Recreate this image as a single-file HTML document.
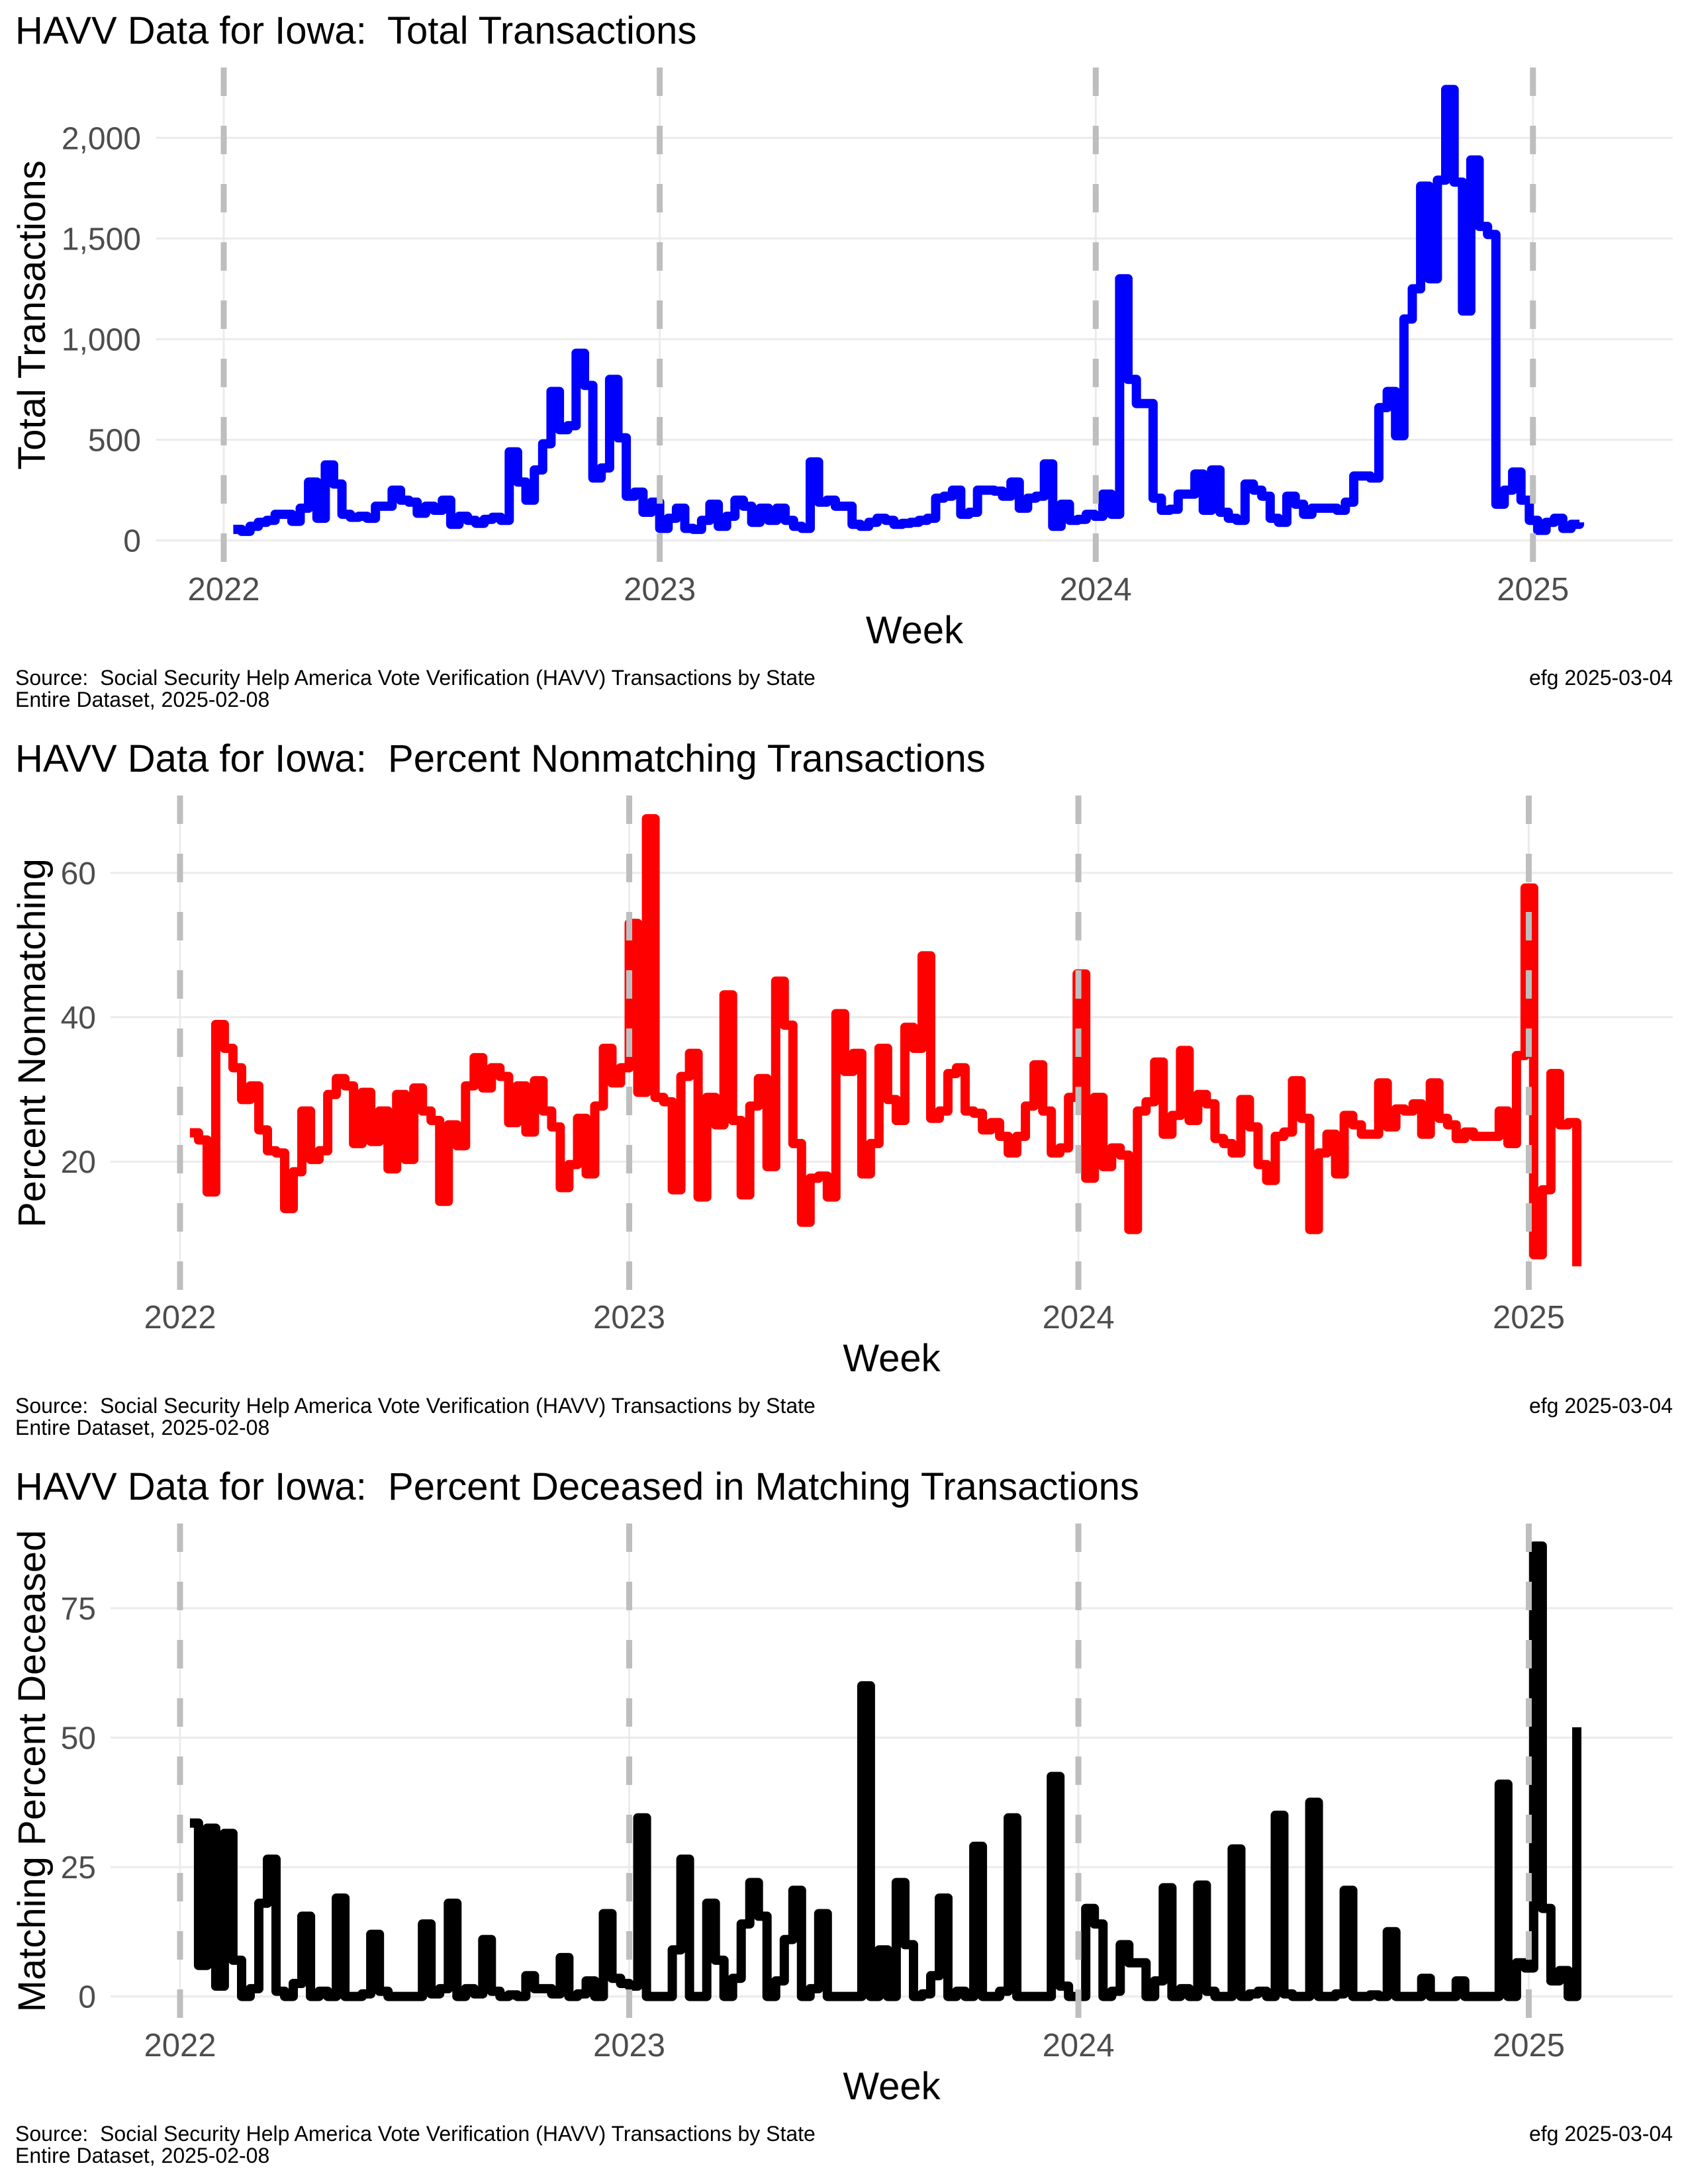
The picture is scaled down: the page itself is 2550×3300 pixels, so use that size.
<!DOCTYPE html>
<html><head><meta charset="utf-8"><title>HAVV Data for Iowa</title>
<style>
html,body{margin:0;padding:0;background:#fff;}
svg{display:block;font-family:"Liberation Sans",Arial,sans-serif;}
svg text{white-space:pre;}
</style></head>
<body>
<svg id="chart" xmlns="http://www.w3.org/2000/svg" xml:space="preserve" width="2550" height="3300" viewBox="0 0 2550 3300">
<rect x="0" y="0" width="2550" height="3300" fill="#ffffff"/>
</svg>
<script>
// ---- data ----
const weekStart = "2022-01-09";
const yearTicks = ["2022", "2023", "2024", "2025"];
const totalTx = [
55,45,70,90,100,130,130,95,160,290,
110,375,280,130,115,120,110,170,170,250,
200,190,135,170,150,200,80,120,100,85,
105,115,100,440,290,200,350,480,740,550,
570,930,770,310,360,800,510,220,240,140,
190,60,110,160,60,55,100,180,70,120,
200,170,90,160,100,160,100,70,60,390,
190,200,170,170,80,70,90,110,100,80,
85,90,100,110,210,220,250,130,140,250,
250,245,220,290,160,210,220,380,70,180,
100,105,130,120,230,130,1300,800,680,680,
210,150,155,230,230,330,150,350,140,110,
100,280,250,220,110,90,220,180,130,160,
160,160,150,190,320,320,310,660,740,520,
1100,1250,1760,1300,1790,2240,1780,1140,1890,1560,
1520,180,250,340,200,100,50,90,110,60,
80,90];
const pctNonmatch = [
24,23,15.8,39,35.7,33,28.6,30.5,24.4,21.5,
21.2,13.5,18.6,27,20.3,21.5,29.3,31.5,30.5,22.5,
29.6,22.8,27,19,29.3,20.3,30.2,27,25.7,14.5,
25.1,22.2,30.5,34.4,30.2,33,31.8,25.4,30.5,24.1,
31.2,27,24.8,16.4,19.6,26,18.3,27.7,35.7,30.9,
33,53,29.6,67.5,28.9,28.3,16.1,31.8,35,15.1,
28.9,25.1,43.1,25.7,15.4,27.7,31.5,19.3,45,38.9,
22.5,11.6,17.7,18,15.1,40.5,32.5,35,18.3,22.5,
35.7,28.6,25.7,38.6,35.7,48.5,26,27,32.2,33,
27,26.7,24.4,25.4,23.5,21.2,23.5,27.7,33.4,27,
21.2,21.9,28.9,46,17.7,28.9,19.3,21.9,20.9,10.6,
27,28.3,33.8,23.8,26.4,35.4,25.7,29.3,28,23.2,
22.5,21.2,28.6,24.8,19.6,17.4,23.5,24.1,31.2,26,
10.6,21.2,23.8,18.3,26.4,25.1,23.8,23.8,30.9,24.8,
27.3,27,28,23.8,30.9,26,25.1,23.2,24.1,23.5,
23.5,23.5,27,22.5,34.7,57.9,7.1,16.1,32.2,25.1,
25.4,5.5];
const pctDeceased = [
33.5,6,32.5,2,31.5,7,0,1.5,18,26.5,
1,0,2.5,15.5,0,1,0,19,0,0,
0.5,12,1,0,0,0,0,14,0.5,1.5,
18,0,1.5,0.5,11,1,0,0.3,0,4,
1.5,1.5,0.5,7.5,0,0.5,3,0,16,3.5,
2.5,2,34.5,0,0,0,9,26.5,0,0,
18,7,0,3.5,14,22,15.5,0,3,11,
20.5,0,1.5,16,0,0,0,0,60,0,
9,0,22,10,0,0.5,4,19,0,1,
0,29,0,0,1,34.5,0,0,0,0,
42.5,2,0,0,17,14,0,1,10,6.5,
6.5,0,3,21,0,1.5,0,21.5,1,0,
0,28.5,0,0.5,1,0,35,0.5,0,0,
37.5,0,0,0.5,20.5,0,0,0.3,0,12.5,
0,0,0,3.5,0,0,0,3,0,0,
0,0,41,0,6.5,5.5,87,17,3,5,
0,52];
const ticksTotal = [0, 500, 1000, 1500, 2000];
const tickLabelsTotal = ["0", "500", "1,000", "1,500", "2,000"];
const ticksNonmatch = [20, 40, 60];
const tickLabelsNonmatch = ["20", "40", "60"];
const ticksDeceased = [0, 25, 50, 75];
const tickLabelsDeceased = ["0", "25", "50", "75"];

// ---- drawing ----
const NS = "http://www.w3.org/2000/svg";
const svg = document.getElementById("chart");
const DAY = 86400000;
const epoch = Date.UTC(2022, 0, 1);
const startDays = (Date.parse(weekStart + "T00:00:00Z") - epoch) / DAY;
function weekDays(i) { return startDays + 7 * i; }
function yearDays(yStr) { return (Date.UTC(+yStr, 0, 1) - epoch) / DAY; }

function mk(tag, attrs, parent) {
  const el = document.createElementNS(NS, tag);
  for (const k in attrs) el.setAttribute(k, attrs[k]);
  (parent || svg).appendChild(el);
  return el;
}

const panels = [
  { oy: 0, title: "HAVV Data for Iowa:  Total Transactions", ytitle: "Total Transactions",
    values: totalTx, ticks: ticksTotal, labels: tickLabelsTotal, color: "#0000ff",
    x0: 338, pxPerYear: 659.1, gridLeft: 236, tickRight: 213,
    y: v => 816.6 - v * (608.3 / 2000), key: "total" },
  { oy: 1100, title: "HAVV Data for Iowa:  Percent Nonmatching Transactions", ytitle: "Percent Nonmatching",
    values: pctNonmatch, ticks: ticksNonmatch, labels: tickLabelsNonmatch, color: "#ff0000",
    x0: 272, pxPerYear: 679, gridLeft: 167, tickRight: 145,
    y: v => 655.2 - (v - 20) * (436.3 / 40), key: "nonmatch" },
  { oy: 2200, title: "HAVV Data for Iowa:  Percent Deceased in Matching Transactions", ytitle: "Matching Percent Deceased",
    values: pctDeceased, ticks: ticksDeceased, labels: tickLabelsDeceased, color: "#000000",
    x0: 272, pxPerYear: 679, gridLeft: 167, tickRight: 145,
    y: v => 816.6 - v * (586.6 / 75), key: "deceased" }
];

panels.forEach(p => {
  const g = mk("g", { transform: "translate(0," + p.oy + ")" });
  
  
  const xs = d => p.x0 + d / 365.25 * p.pxPerYear;

  const t = mk("text", { x: 23, y: 66, "font-size": 58, fill: "#000" }, g);
  t.textContent = p.title;
  
  

  p.ticks.forEach((v, k) => {
    const yy = p.y(v);
    const gl = mk("line", { x1: p.gridLeft, x2: 2527, y1: yy, y2: yy, stroke: "#ebebeb", "stroke-width": 3 }, g);
    
    
    const tl = mk("text", { x: p.tickRight, y: yy + 17, "font-size": 48, fill: "#4d4d4d", "text-anchor": "end" }, g);
    tl.textContent = p.labels[k];
    
    
  });

  yearTicks.forEach(yr => {
    const xx = xs(yearDays(yr));
    const vl = mk("line", { x1: xx, x2: xx, y1: 102, y2: 849, stroke: "#ebebeb", "stroke-width": 3 }, g);
    
    
    const xl = mk("text", { x: xx, y: 907, "font-size": 49, fill: "#4d4d4d", "text-anchor": "middle" }, g);
    xl.textContent = yr;
    
    
  });

  let d = "";
  p.values.forEach((v, i) => {
    const xx = xs(weekDays(i)).toFixed(1), yy = p.y(v).toFixed(1);
    if (i === 0) d += "M" + xx + "," + yy;
    else d += "H" + xx + "V" + yy;
  });
  const path = mk("path", { d: d, fill: "none", stroke: p.color, "stroke-width": 14, "stroke-linejoin": "round", "stroke-linecap": "butt" }, g);
  
  

  yearTicks.forEach(yr => {
    const xx = xs(yearDays(yr));
    const dl = mk("line", { x1: xx, x2: xx, y1: 102, y2: 849, stroke: "#bebebe", "stroke-width": 9, "stroke-dasharray": "43 45" }, g);
    
    
  });

  const yt = mk("text", { x: 0, y: 0, "font-size": 58, fill: "#000", "text-anchor": "middle",
    transform: "translate(68,476) rotate(-90)" }, g);
  yt.textContent = p.ytitle;
  
  
  const xt = mk("text", { x: (p.gridLeft + 2527) / 2, y: 972, "font-size": 58, fill: "#000", "text-anchor": "middle" }, g);
  xt.textContent = "Week";
  
  

  const c1 = mk("text", { x: 23, y: 1035, "font-size": 32, fill: "#000" }, g);
  c1.textContent = "Source:  Social Security Help America Vote Verification (HAVV) Transactions by State";
  
  
  const c2 = mk("text", { x: 23, y: 1068, "font-size": 32, fill: "#000" }, g);
  c2.textContent = "Entire Dataset, 2025-02-08";
  
  
  const c3 = mk("text", { x: 2527, y: 1035, "font-size": 32, fill: "#000", "text-anchor": "end" }, g);
  c3.textContent = "efg 2025-03-04";
  
  
});
</script>
</body></html>
